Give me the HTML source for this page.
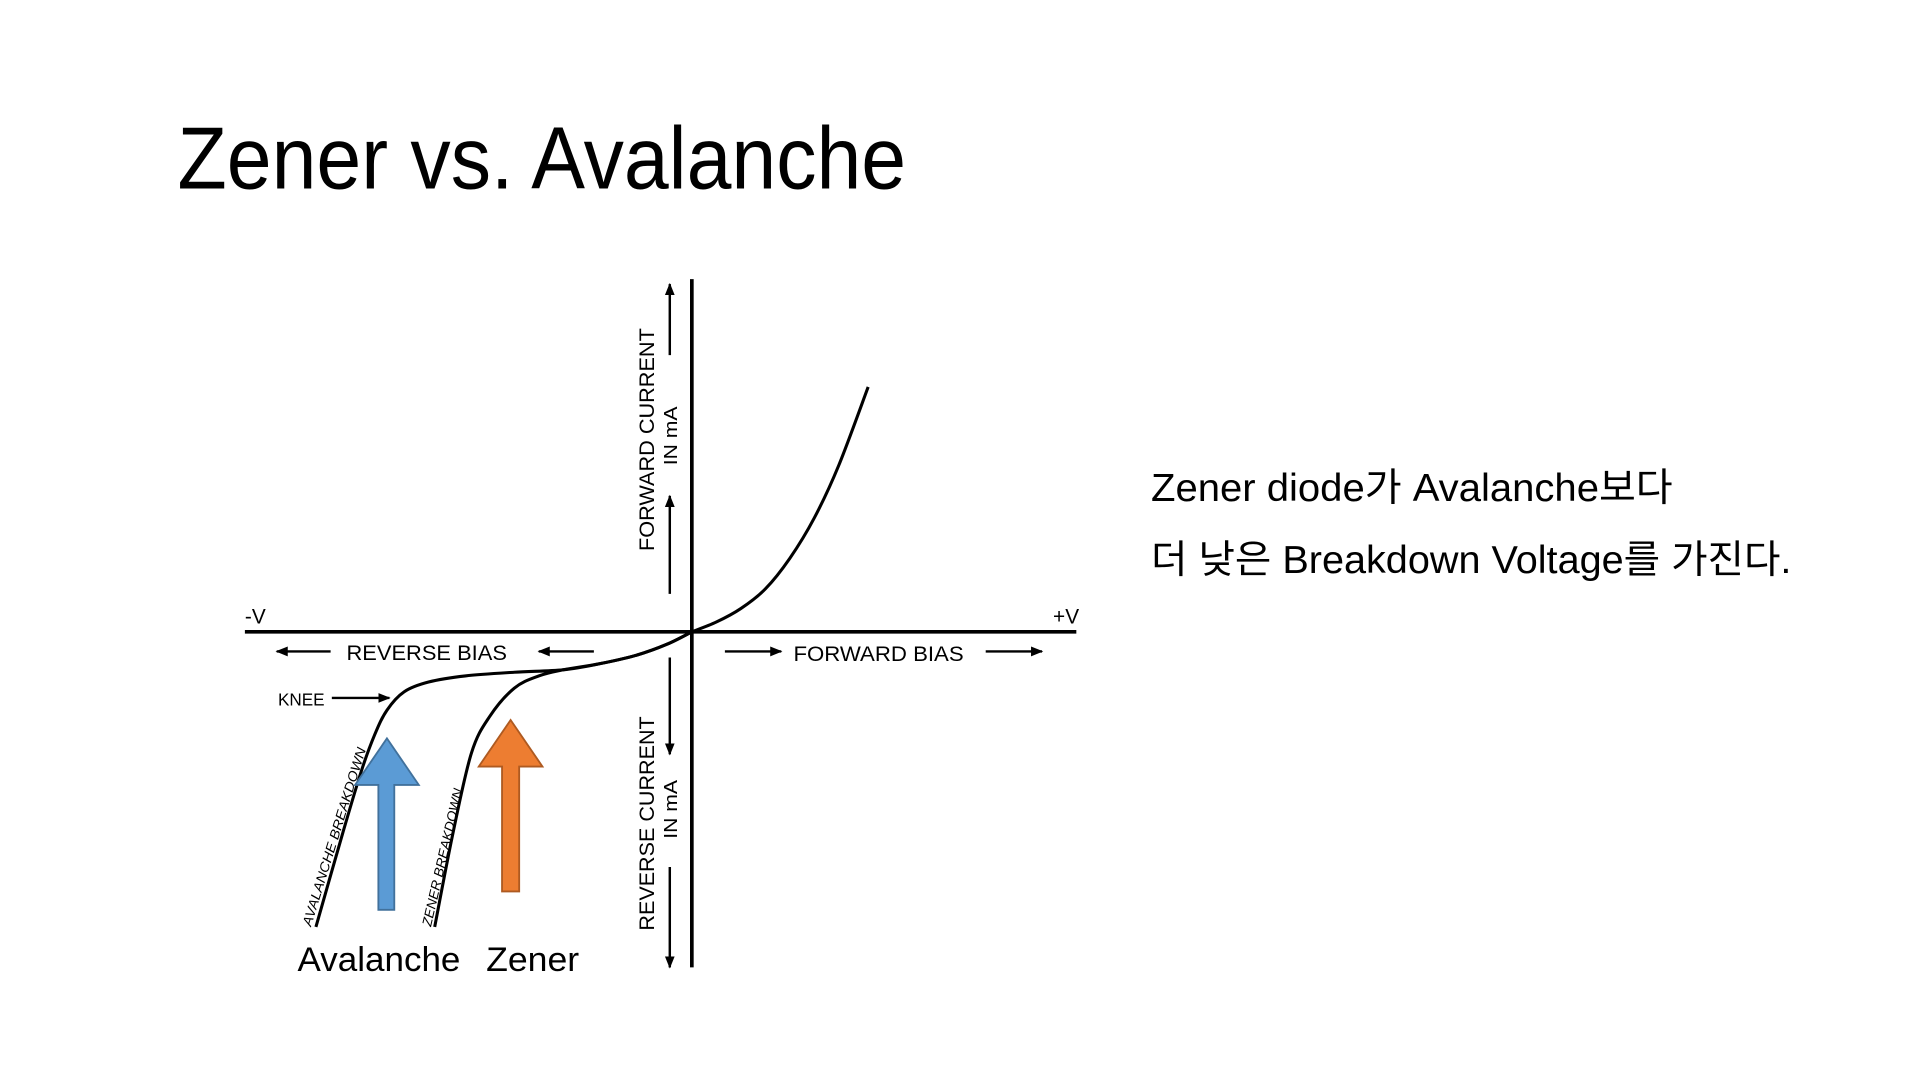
<!DOCTYPE html>
<html>
<head>
<meta charset="utf-8">
<style>
html,body{margin:0;padding:0;background:#fff;}
svg{display:block;}
text{font-family:"Liberation Sans","Noto Sans CJK KR",sans-serif;fill:#000;}
</style>
</head>
<body>
<svg id="slide" width="1920" height="1080" viewBox="0 0 1568 882" xmlns="http://www.w3.org/2000/svg">
  <defs>
    <marker id="ah" viewBox="0 0 10 10" refX="9" refY="5" markerWidth="5" markerHeight="5" orient="auto">
      <path d="M0,1 L10,5 L0,9 z" fill="#000"/>
    </marker>
  </defs>
  <text x="145" y="154" font-size="72" textLength="595" lengthAdjust="spacingAndGlyphs">Zener vs. Avalanche</text>

  <g id="chart">
    <line x1="200" y1="516" x2="879" y2="516" stroke="#000" stroke-width="3"/>
    <line x1="565" y1="228" x2="565" y2="790" stroke="#000" stroke-width="3"/>
    <text x="200" y="509" font-size="17">-V</text>
    <text x="860" y="509" font-size="17">+V</text>

    <g>
      <line x1="270" y1="532" x2="226" y2="532" stroke="#000" stroke-width="2" marker-end="url(#ah)"/>
      <text x="283" y="539" font-size="17" textLength="131" lengthAdjust="spacingAndGlyphs">REVERSE BIAS</text>
      <line x1="485" y1="532" x2="440" y2="532" stroke="#000" stroke-width="2" marker-end="url(#ah)"/>
    </g>
    <g>
      <line x1="592" y1="532" x2="638" y2="532" stroke="#000" stroke-width="2" marker-end="url(#ah)"/>
      <text x="648" y="540" font-size="17" textLength="139" lengthAdjust="spacingAndGlyphs">FORWARD BIAS</text>
      <line x1="805" y1="532" x2="851" y2="532" stroke="#000" stroke-width="2" marker-end="url(#ah)"/>
    </g>

    <g>
      <line x1="547" y1="290" x2="547" y2="232" stroke="#000" stroke-width="2" marker-end="url(#ah)"/>
      <text transform="translate(534,450) rotate(-90)" font-size="17" textLength="182" lengthAdjust="spacingAndGlyphs">FORWARD CURRENT</text>
      <text transform="translate(553,380) rotate(-90)" font-size="15" textLength="48" lengthAdjust="spacingAndGlyphs">IN mA</text>
      <line x1="547" y1="485" x2="547" y2="405" stroke="#000" stroke-width="2" marker-end="url(#ah)"/>
    </g>
    <g>
      <line x1="547" y1="537" x2="547" y2="616" stroke="#000" stroke-width="2" marker-end="url(#ah)"/>
      <text transform="translate(534,760) rotate(-90)" font-size="17" textLength="175" lengthAdjust="spacingAndGlyphs">REVERSE CURRENT</text>
      <text transform="translate(553,685) rotate(-90)" font-size="15" textLength="48" lengthAdjust="spacingAndGlyphs">IN mA</text>
      <line x1="547" y1="708" x2="547" y2="790" stroke="#000" stroke-width="2" marker-end="url(#ah)"/>
    </g>

    <g>
      <text x="227" y="576" font-size="14">KNEE</text>
      <line x1="271" y1="570" x2="318" y2="570" stroke="#000" stroke-width="2" marker-end="url(#ah)"/>
    </g>

    <g id="curves"></g>

    <text transform="translate(254,757) rotate(-72.8)" font-size="11" font-style="italic" textLength="152" lengthAdjust="spacingAndGlyphs">AVALANCHE  BREAKDOWN</text>
    <text transform="translate(352,757) rotate(-77)" font-size="11" font-style="italic" textLength="115" lengthAdjust="spacingAndGlyphs">ZENER  BREAKDOWN</text>

    <path d="M316,603 L342,641 L322,641 L322,743 L309,743 L309,641 L290,641 Z" fill="#5b9bd5" stroke="#41719c" stroke-width="1.5"/>
    <path d="M417,588 L443,626 L424,626 L424,728 L410,728 L410,626 L391,626 Z" fill="#ed7d31" stroke="#ae5a21" stroke-width="1.5"/>

    <text x="243" y="793" font-size="28" textLength="133" lengthAdjust="spacingAndGlyphs">Avalanche</text>
    <text x="397" y="793" font-size="28" textLength="76" lengthAdjust="spacingAndGlyphs">Zener</text>
  </g>

  <text x="940" y="409" font-size="32" textLength="426" lengthAdjust="spacingAndGlyphs">Zener diode가 Avalanche보다</text>
  <text x="940" y="468" font-size="32" textLength="523" lengthAdjust="spacingAndGlyphs">더 낮은 Breakdown Voltage를 가진다.</text>
</svg>
<script>
// Diagram data (units: voltage steps and current steps from origin)
const forwardV = [0, 2, 4, 6, 8, 10, 12, 14.4];
const forwardI = [0, 0.8, 1.9, 3.5, 6, 9.3, 13.6, 20];
const avalancheV = [0, -2, -4.5, -7.5, -10.5, -14.5, -18.5, -21.5, -23.5, -24.9, -25.9, -27, -28.5, -30.7];
const avalancheI = [0, -1, -1.9, -2.6, -3.1, -3.3, -3.6, -4.1, -4.9, -6.4, -8.4, -11.4, -16.4, -24.1];
const zenerV = [0, -2, -4.5, -7.5, -10.5, -12.5, -14.5, -16.5, -18, -19.5, -21];
const zenerI = [0, -1, -1.9, -2.6, -3.1, -3.6, -4.6, -6.9, -9.9, -16.4, -24.1];

const ORIGIN_X = 565, ORIGIN_Y = 516, UNIT = 10;
function xScale(v) { return ORIGIN_X + v * UNIT; }
function yScale(i) { return ORIGIN_Y - i * UNIT; }

function smoothPath(vs, is) {
  const p = vs.map((v, k) => [xScale(v), yScale(is[k])]);
  let d = 'M' + p[0][0] + ',' + p[0][1];
  for (let k = 0; k < p.length - 1; k++) {
    const p0 = p[k - 1] || p[k], p1 = p[k], p2 = p[k + 1], p3 = p[k + 2] || p2;
    const c1x = p1[0] + (p2[0] - p0[0]) / 6, c1y = p1[1] + (p2[1] - p0[1]) / 6;
    const c2x = p2[0] - (p3[0] - p1[0]) / 6, c2y = p2[1] - (p3[1] - p1[1]) / 6;
    d += ' C' + c1x + ',' + c1y + ' ' + c2x + ',' + c2y + ' ' + p2[0] + ',' + p2[1];
  }
  return d;
}

const g = document.getElementById('curves');
const NS = 'http://www.w3.org/2000/svg';
function addCurve(vs, is, name) {
  const el = document.createElementNS(NS, 'path');
  el.setAttribute('d', smoothPath(vs, is));
  el.setAttribute('fill', 'none');
  el.setAttribute('stroke', '#000');
  el.setAttribute('stroke-width', '2.5');
  
  
  g.appendChild(el);
}
addCurve(forwardV, forwardI, 'forward-curve');
addCurve(avalancheV, avalancheI, 'avalanche-curve');
addCurve(zenerV, zenerI, 'zener-curve');
</script>
</body>
</html>
